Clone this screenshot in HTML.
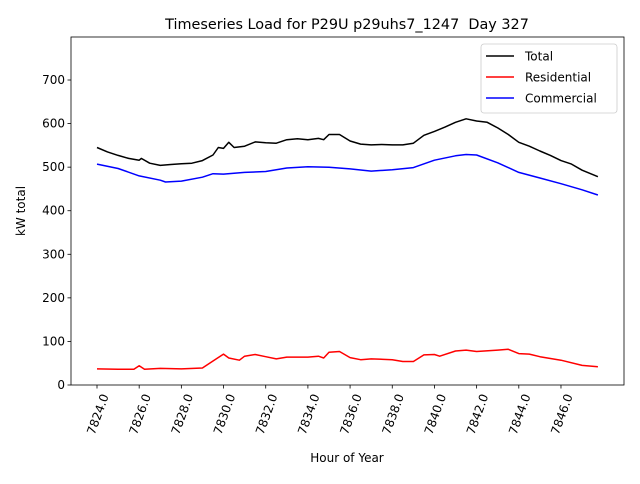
<!DOCTYPE html>
<html><head><meta charset="utf-8"><style>
body{margin:0;background:#fff;font-family:"DejaVu Sans","Liberation Sans",sans-serif;}
svg text{font-family:"DejaVu Sans","Liberation Sans",sans-serif;}
</style></head><body>
<svg id="chart" width="640" height="480" xmlns="http://www.w3.org/2000/svg">
<rect width="640" height="480" fill="#fff"/>
<text x="347" y="29" font-size="14.4" text-anchor="middle">Timeseries Load for P29U p29uhs7_1247&#160; Day 327</text>
<g id="plot"></g>
</svg>
<script>
const totalHours=[7824,7824.5,7825,7825.5,7826,7826.1,7826.5,7827,7827.5,7828,7828.5,7829,7829.5,7829.75,7830,7830.25,7830.5,7831,7831.5,7832,7832.5,7833,7833.5,7834,7834.5,7834.75,7835,7835.5,7836,7836.5,7837,7837.5,7838,7838.5,7839,7839.5,7840,7840.5,7841,7841.5,7842,7842.5,7843,7843.5,7844,7844.5,7845,7845.5,7846,7846.5,7847,7847.75];
const totalValues=[545,535,527,520,516,520,509,504,506,508,509,515,528,545,543,557,545,548,558,556,555,563,565,563,566,563,575,575,560,553,551,552,551,551,555,573,582,592,603,611,606,603,590,575,557,548,537,527,515,507,493,478];
const commHours=[7824,7825,7826,7827,7827.25,7828,7829,7829.5,7830,7831,7832,7833,7834,7835,7836,7837,7838,7839,7840,7841,7841.5,7842,7843,7844,7845,7846,7847,7847.75];
const commValues=[507,497,480,470,466,468,477,485,484,488,490,498,501,500,496,491,494,499,516,526,529,528,510,488,475,462,448,436];
const resHours=[7824,7825,7825.75,7826,7826.25,7827,7828,7829,7829.5,7830,7830.25,7830.75,7831,7831.5,7832,7832.5,7833,7834,7834.5,7834.75,7835,7835.5,7836,7836.5,7837,7838,7838.5,7839,7839.5,7840,7840.25,7841,7841.5,7842,7843,7843.5,7844,7844.5,7845,7846,7847,7847.75];
const resValues=[37,36,36,44,36,38,37,39,55,71,62,57,66,70,65,60,64,64,66,62,75,77,63,58,60,58,54,54,69,70,66,78,80,77,80,82,72,71,65,57,45,42];
const xTicks=[7824,7826,7828,7830,7832,7834,7836,7838,7840,7842,7844,7846];
const yTicks=[0,100,200,300,400,500,600,700];
const L=71,R=624,T=37,B=385;
const xs=h=>97+(h-7824)*21.09;
const ys=v=>385-v*0.4357;
const NS="http://www.w3.org/2000/svg";
const g=document.getElementById('plot');
function mk(t,a,p){const e=document.createElementNS(NS,t);for(const k in a)e.setAttribute(k,a[k]);(p||g).appendChild(e);return e;}
function series(hs,vs,color,name){
 const p=mk('polyline',{points:hs.map((h,i)=>xs(h).toFixed(1)+','+ys(vs[i]).toFixed(1)).join(' '),fill:'none',stroke:color,'stroke-width':1.5,'stroke-linejoin':'round'});
 
 
}
series(totalHours,totalValues,'#000','total-line');
series(resHours,resValues,'#f00','residential-line');
series(commHours,commValues,'#00f','commercial-line');
const frame=mk('rect',{x:L,y:T,width:R-L,height:B-T,fill:'none',stroke:'#000','stroke-width':0.8});


xTicks.forEach(t=>{
 const x=xs(t);
 mk('line',{x1:x,x2:x,y1:B,y2:B+3.5,stroke:'#000','stroke-width':0.8});
 const tx=mk('text',{x:0,y:0,'font-size':12,'text-anchor':'end',transform:`translate(${x+4},${B+8}) rotate(-70)`,dy:'0.7em'});
 tx.textContent=t.toFixed(1);
 
 
});
yTicks.forEach(t=>{
 const y=ys(t);
 mk('line',{x1:L-3.5,x2:L,y1:y,y2:y,stroke:'#000','stroke-width':0.8});
 const tx=mk('text',{x:L-6,y:y+4,'font-size':12,'text-anchor':'end'});
 tx.textContent=t;
 
 
});
const xl=mk('text',{x:347,y:462,'font-size':12,'text-anchor':'middle'});xl.textContent='Hour of Year';


const yl=mk('text',{x:0,y:0,'font-size':12,'text-anchor':'middle',transform:'translate(25,211) rotate(-90)'});yl.textContent='kW total';


const lg=mk('g',{});


mk('rect',{x:481,y:44,width:136,height:69,rx:3,fill:'#fff','fill-opacity':0.8,stroke:'#ccc','stroke-width':0.8},lg);
[['Total','#000'],['Residential','#f00'],['Commercial','#00f']].forEach((e,i)=>{
 const y=56+i*21;
 const it=mk('g',{},lg);
 
 
 mk('line',{x1:486,x2:514,y1:y,y2:y,stroke:e[1],'stroke-width':1.5},it);
 const t=mk('text',{x:525,y:y+4.5,'font-size':12},it);t.textContent=e[0];
});
</script>
</body></html>
